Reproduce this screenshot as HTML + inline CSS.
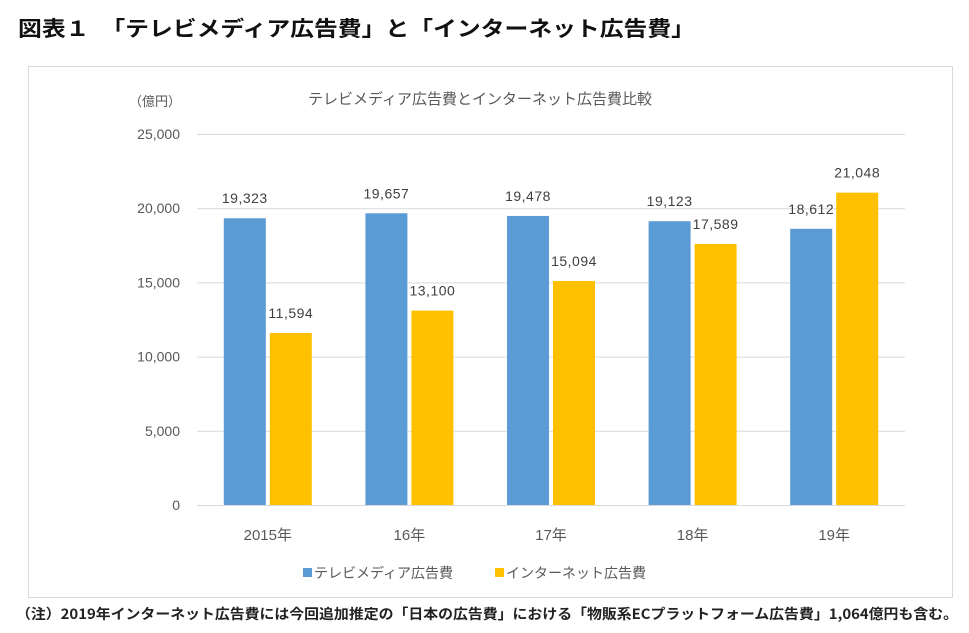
<!DOCTYPE html>
<html><head><meta charset="utf-8"><style>
body{margin:0;background:#fff;font-family:"Liberation Sans","Noto Sans CJK JP",sans-serif;}
#wrap{position:relative;width:969px;height:633px;overflow:hidden;}
</style></head><body>
<div id="wrap">
<svg id="svg" width="969" height="633" xmlns="http://www.w3.org/2000/svg">
<text x="18" y="36" font-size="21" font-weight="bold" fill="#111" textLength="677" lengthAdjust="spacingAndGlyphs" font-family="Noto Sans CJK JP, sans-serif">図表１　「テレビメディア広告費」と「インターネット広告費」</text>
<rect x="28.5" y="66.5" width="924" height="531" fill="#fff" stroke="#d9d9d9"/>
<text x="480" y="104" font-size="15" fill="#595959" text-anchor="middle" font-family="Noto Sans CJK JP, sans-serif">テレビメディア広告費とインターネット広告費比較</text>
<text x="155" y="106" font-size="13" fill="#595959" text-anchor="middle" font-family="Noto Sans CJK JP, sans-serif">（億円）</text>
<g id="grid"></g><g id="bars"></g><g id="labels"></g>
<g>
<rect x="303" y="568" width="9" height="9" fill="#5b9bd5"/>
<text x="314" y="578" font-size="14" fill="#595959" font-family="Noto Sans CJK JP, sans-serif">テレビメディア広告費</text>
<rect x="495" y="568" width="9" height="9" fill="#ffc000"/>
<text x="506" y="578" font-size="14" fill="#595959" font-family="Noto Sans CJK JP, sans-serif">インターネット広告費</text>
</g>
<text x="16" y="619" font-size="14" font-weight="bold" fill="#222" textLength="942" lengthAdjust="spacingAndGlyphs" font-family="Noto Sans CJK JP, sans-serif">（注）2019年インターネット広告費には今回追加推定の「日本の広告費」における「物販系ECプラットフォーム広告費」1,064億円も含む。</text>
</svg></div>
<script>
const categories=["2015年","16年","17年","18年","19年"];
const tvValues=[19323,19657,19478,19123,18612];
const netValues=[11594,13100,15094,17589,21048];
const yTicks=[0,5000,10000,15000,20000,25000];
const NS="http://www.w3.org/2000/svg";
const x0=197,x1=905,yBase=505,yTop=134,yMax=25000;
const y=v=>yBase-(v/yMax)*(yBase-yTop);
const band=(x1-x0)/categories.length;
const cx=i=>x0+band*(i+0.5);
function mk(tag,attrs,parent){const e=document.createElementNS(NS,tag);for(const k in attrs)e.setAttribute(k,attrs[k]);parent.appendChild(e);return e;}
const grid=document.getElementById('grid'),bars=document.getElementById('bars'),labels=document.getElementById('labels');
const fmt=v=>v.toLocaleString('en-US');
yTicks.forEach(t=>{
 const l=mk('line',{x1:x0,x2:x1,y1:y(t)+0.5,y2:y(t)+0.5,stroke:'#d9d9d9'},grid);
 
 
 const tx=mk('text',{x:180,y:y(t)+5,'font-size':14,fill:'#595959','text-anchor':'end'},grid);
 tx.textContent=fmt(t);
 
 
});
const bw=42,gap=4;
categories.forEach((c,i)=>{
 const c0=cx(i);
 const series=[[tvValues[i],'#5b9bd5',c0-gap/2-bw,'tv'],[netValues[i],'#ffc000',c0+gap/2,'net']];
 series.forEach(([v,col,bx,nm])=>{
  const r=mk('rect',{x:bx,y:y(v),width:bw,height:yBase-y(v),fill:col},bars);
  
  
  const t=mk('text',{x:bx+bw/2,y:y(v)-15,'font-size':14,fill:'#404040','text-anchor':'middle','letter-spacing':'0.5'},labels);
  t.textContent=fmt(v);
  
  
 });
 const xl=mk('text',{x:c0,y:540,'font-size':15,fill:'#595959','text-anchor':'middle','font-family':'Liberation Sans, Noto Sans CJK JP, sans-serif'},labels);
 xl.textContent=c;
 
 
});
</script>
</body></html>
